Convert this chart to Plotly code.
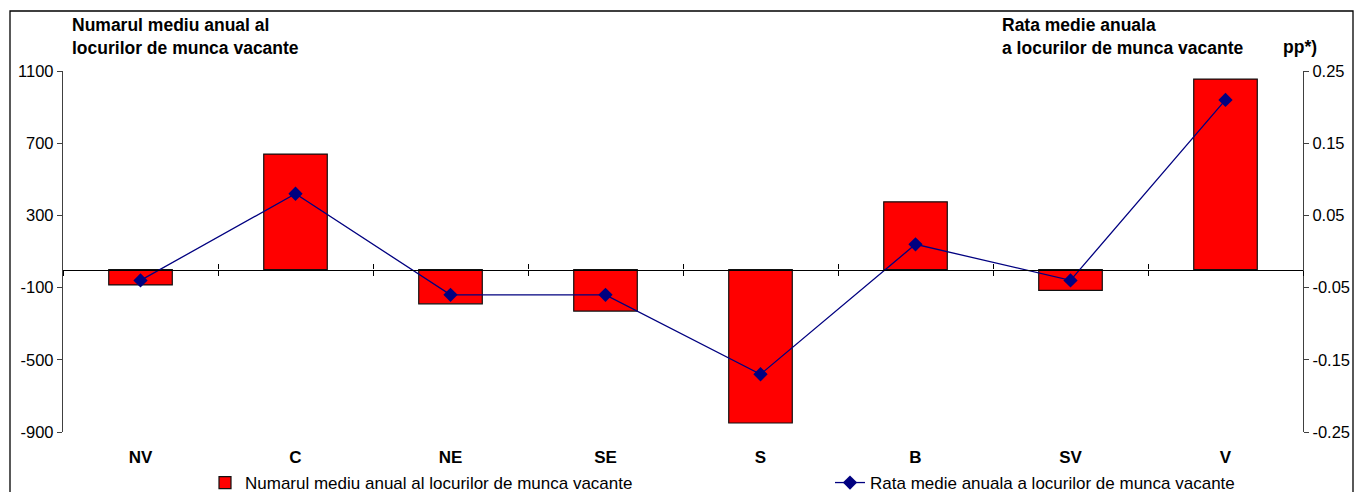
import plotly.graph_objects as go

# ---- data ----
regions = ["NV", "C", "NE", "SE", "S", "B", "SV", "V"]
vacancies = [-85, 640, -190, -230, -850, 375, -115, 1055]
rate = [-0.04, 0.08, -0.06, -0.06, -0.17, 0.01, -0.04, 0.21]

left_ticks = [1100, 700, 300, -100, -500, -900]
left_ticktext = ["1100", "700", "300", "-100", "-500", "-900"]
right_ticks = [0.25, 0.15, 0.05, -0.05, -0.15, -0.25]
right_ticktext = ["0.25", "0.15", "0.05", "-0.05", "-0.15", "-0.25"]

bar_name = "Numarul mediu anual al locurilor de munca vacante"
line_name = "Rata medie anuala a locurilor de munca vacante"
left_title = "Numarul mediu anual al<br>locurilor de munca vacante"
right_title = "Rata medie anuala<br>a locurilor de munca vacante"
unit_label = "pp*)"

# ---- styling ----
FONT = "Liberation Sans, Arial, sans-serif"
W, H = 1356, 492
ML, MR, MT, MB = 63, 53, 71, 60
PW, PH = W - ML - MR, H - MT - MB
AXC = "#404040"

def px_x(px):
    return (px - ML) / PW

def px_y(py):
    return (H - MB - py) / PH

left_range = [min(left_ticks), max(left_ticks)]
right_range = [min(right_ticks), max(right_ticks)]
zero_pos = (0 - left_range[0]) / (left_range[1] - left_range[0])

fig = go.Figure()
fig.add_trace(go.Bar(
    x=regions, y=vacancies, name=bar_name, width=0.41,
    marker=dict(color="#FF0000", line=dict(color="#111111", width=1.2)),
    yaxis="y", xaxis="x", legend="legend",
))
fig.add_trace(go.Scatter(
    x=regions, y=rate, name=line_name, mode="lines+markers",
    line=dict(color="#000080", width=1.3),
    marker=dict(symbol="diamond", size=11, color="#000080"),
    yaxis="y2", xaxis="x", legend="legend2",
))
# empty helper traces so that the zero-line category axes are drawn
for ax in ("x2", "x3"):
    fig.add_trace(go.Scatter(x=[], y=[], xaxis=ax, yaxis="y",
                             showlegend=False, hoverinfo="skip"))

n = len(regions)
common_x_overlay = dict(
    overlaying="x", anchor="free", position=zero_pos,
    range=[-0.5, n - 0.5], tick0=-0.5, dtick=1,
    showline=True, linecolor="#000000", linewidth=1.3,
    ticklen=5, tickcolor="#000000", tickwidth=1,
    showticklabels=False, showgrid=False, zeroline=False,
)

legend_common = dict(
    orientation="h", y=px_y(483), xanchor="left", yanchor="middle",
    font=dict(family=FONT, size=17, color="#000000"),
    bgcolor="rgba(0,0,0,0)",
)

fig.update_layout(
    width=W, height=H,
    margin=dict(l=ML, r=MR, t=MT, b=MB, autoexpand=False),
    paper_bgcolor="white", plot_bgcolor="white",
    font=dict(family=FONT, size=16, color="#000000"),
    showlegend=True,
    xaxis=dict(
        type="category", categoryarray=regions, range=[-0.5, n - 0.5],
        showline=False, ticks="", showgrid=False, zeroline=False,
        tickfont=dict(family=FONT, size=17, color="#000000", weight="bold"),
        ticklabelstandoff=13,
    ),
    xaxis2=dict(ticks="outside", **common_x_overlay),
    xaxis3=dict(ticks="inside", **common_x_overlay),
    yaxis=dict(
        range=left_range, tickvals=left_ticks, ticktext=left_ticktext,
        ticks="outside", ticklen=5, tickcolor=AXC, tickwidth=1,
        showline=True, linecolor=AXC, linewidth=1.3,
        showgrid=False, zeroline=False,
        tickfont=dict(family=FONT, size=16.5, color="#000000"),
    ),
    yaxis2=dict(
        overlaying="y", side="right", anchor="x",
        range=right_range, tickvals=right_ticks, ticktext=right_ticktext,
        ticks="outside", ticklen=5, tickcolor=AXC, tickwidth=1,
        showline=True, linecolor=AXC, linewidth=1.3,
        showgrid=False, zeroline=False,
        tickfont=dict(family=FONT, size=16.5, color="#000000"),
    ),
    yaxis3=dict(
        overlaying="y", side="left", anchor="x",
        range=left_range, tickvals=left_ticks,
        ticks="inside", ticklen=5, tickcolor=AXC, tickwidth=1,
        showticklabels=False, showline=False, showgrid=False, zeroline=False,
    ),
    yaxis4=dict(
        overlaying="y", side="right", anchor="x",
        range=right_range, tickvals=right_ticks,
        ticks="inside", ticklen=5, tickcolor=AXC, tickwidth=1,
        showticklabels=False, showline=False, showgrid=False, zeroline=False,
    ),
    legend=dict(x=px_x(205), **legend_common),
    legend2=dict(x=px_x(830), **legend_common),
    shapes=[dict(
        type="rect", xref="paper", yref="paper", layer="below",
        x0=px_x(10), x1=px_x(1353), y0=px_y(520), y1=px_y(11),
        line=dict(color="#000000", width=1.3), fillcolor="rgba(0,0,0,0)",
    )],
    annotations=[
        dict(text=left_title, xref="paper", yref="paper",
             x=px_x(70), y=px_y(36), xanchor="left", yanchor="middle",
             align="left", showarrow=False,
             font=dict(family=FONT, size=17.5, color="#000000", weight="bold")),
        dict(text=right_title, xref="paper", yref="paper",
             x=px_x(1000), y=px_y(36), xanchor="left", yanchor="middle",
             align="left", showarrow=False,
             font=dict(family=FONT, size=17.5, color="#000000", weight="bold")),
        dict(text=unit_label, xref="paper", yref="paper",
             x=px_x(1281), y=px_y(47), xanchor="left", yanchor="middle",
             align="left", showarrow=False,
             font=dict(family=FONT, size=17.5, color="#000000", weight="bold")),
    ],
)

fig.write_html("out.html", config={"displayModeBar": False},
               post_script="document.body.style.margin='0';")
